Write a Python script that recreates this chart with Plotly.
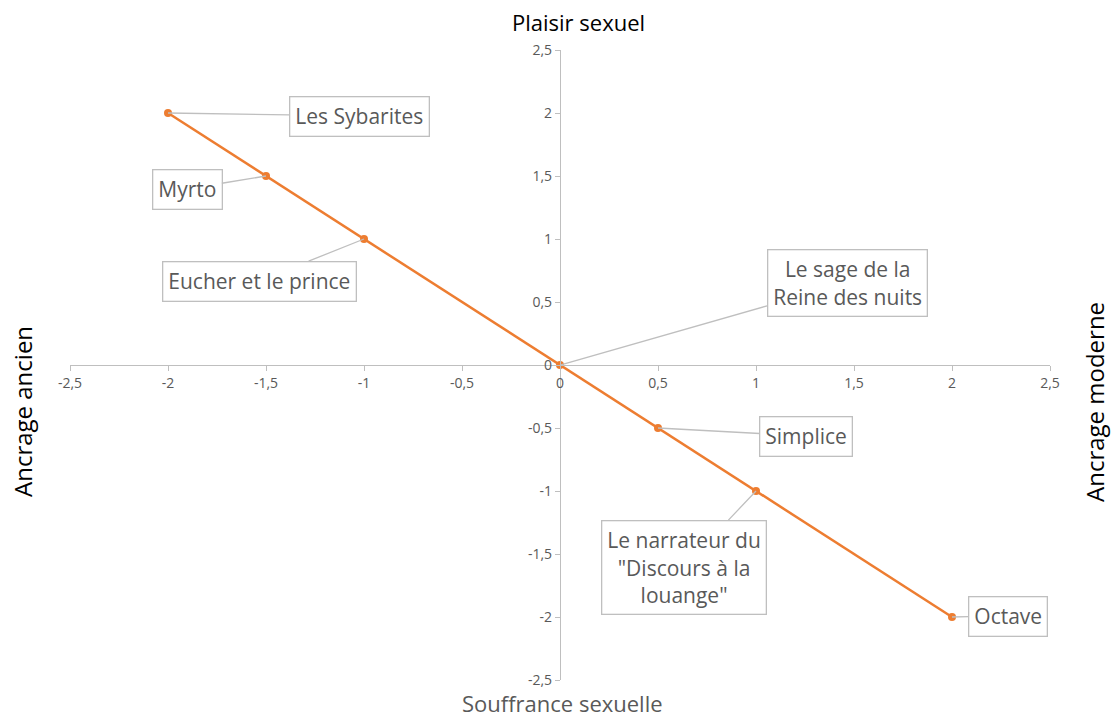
import plotly.graph_objects as go

# Characters placed on the two axes
names = [
    "Les Sybarites",
    "Myrto",
    "Eucher et le prince",
    "Le sage de la<br>Reine des nuits",
    "Simplice",
    "Le narrateur du<br>\"Discours à la<br>louange\"",
    "Octave",
]
x_vals = [-2, -1.5, -1, 0, 0.5, 1, 2]
y_vals = [2, 1.5, 1, 0, -0.5, -1, -2]

# label box offsets (pixels) from each point
label_dx = [191, -79, -105, 287, 148, -72, 56]
label_dy = [3, 13, 42, -82, 8, 76, -1]

tick_vals = [-2.5, -2, -1.5, -1, -0.5, 0, 0.5, 1, 1.5, 2, 2.5]
tick_text = ["-2,5", "-2", "-1,5", "-1", "-0,5", "0", "0,5", "1", "1,5", "2", "2,5"]

FONT = "Open Sans"
ORANGE = "#ed7d31"
GREY_TXT = "#595959"
AXIS_GREY = "#bfbfbf"

W, H = 1112, 718
ml, mr, mt, mb = 70, 62, 50, 38


def px_to_paper(px, py):
    return (px - ml) / (W - ml - mr), 1 - (py - mt) / (H - mt - mb)


fig = go.Figure()
fig.add_trace(go.Scatter(
    x=x_vals, y=y_vals, mode="lines+markers",
    line=dict(color=ORANGE, width=2.5),
    marker=dict(color=ORANGE, size=8),
    hoverinfo="skip", showlegend=False,
))

for name, x, y, dx, dy in zip(names, x_vals, y_vals, label_dx, label_dy):
    fig.add_annotation(
        x=x, y=y, xref="x", yref="y", text=name,
        showarrow=True, arrowhead=0, arrowwidth=1.3, arrowcolor=AXIS_GREY,
        ax=dx, ay=dy, standoff=0,
        font=dict(family=FONT, size=21, color=GREY_TXT),
        bgcolor="white", bordercolor=AXIS_GREY, borderwidth=1.3, borderpad=5,
        align="center",
    )

# axis titles: (text, pixel x, pixel y, colour, size, angle, yanchor)
titles = [
    ("Plaisir sexuel", 578, 22, "black", 22, 0, "middle"),
    ("Souffrance sexuelle", 562, 719, GREY_TXT, 22, 0, "bottom"),
    ("Ancrage ancien", 22, 412, "black", 24, -90, "middle"),
    ("Ancrage moderne", 1094, 402, "black", 24, -90, "middle"),
]
for text, px, py, col, size, ang, yanc in titles:
    xp, yp = px_to_paper(px, py)
    fig.add_annotation(text=text, x=xp, y=yp, xref="paper", yref="paper",
                       xanchor="center", yanchor=yanc, textangle=ang,
                       showarrow=False, borderpad=0,
                       font=dict(family=FONT, size=size, color=col))

axis_common = dict(
    range=[-2.5, 2.5], tickvals=tick_vals, ticktext=tick_text,
    showgrid=False, zeroline=False, showline=True, linecolor=AXIS_GREY, linewidth=1.3,
    ticks="outside", ticklen=5, tickcolor=AXIS_GREY, tickwidth=1.3,
    tickfont=dict(family=FONT, size=14, color=GREY_TXT),
    anchor="free", position=0.5, fixedrange=True,
)
fig.update_layout(
    width=W, height=H,
    margin=dict(l=ml, r=mr, t=mt, b=mb),
    paper_bgcolor="white", plot_bgcolor="white",
    xaxis=dict(**axis_common),
    yaxis=dict(**axis_common),
    showlegend=False,
)

fig.write_html("out.html")
